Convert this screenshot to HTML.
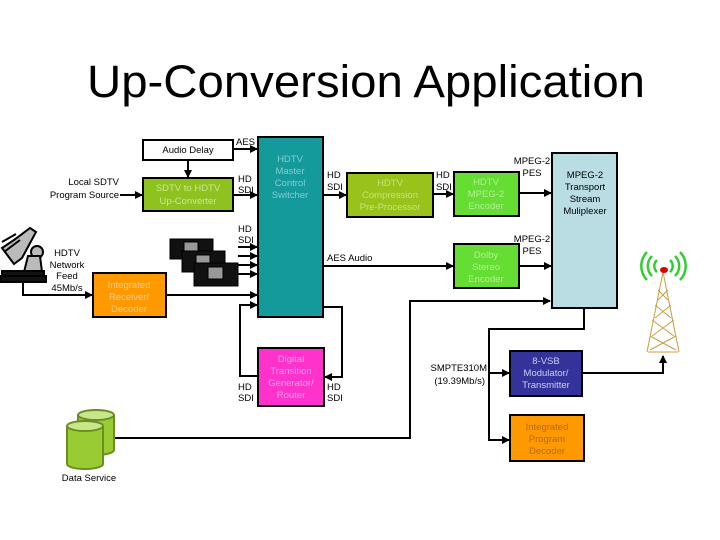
<!DOCTYPE html>
<html><head><meta charset="utf-8"><style>
html,body{margin:0;padding:0;background:#fff;}
svg{display:block;font-family:"Liberation Sans",sans-serif;}
</style></head><body>
<svg width="720" height="540" viewBox="0 0 720 540" xmlns="http://www.w3.org/2000/svg">
<defs>
<marker id="a" markerWidth="8" markerHeight="8" refX="7" refY="4" orient="auto" markerUnits="userSpaceOnUse">
<path d="M0,0 L8,4 L0,8 z" fill="#000"/></marker>
</defs>
<rect width="720" height="540" fill="#fff"/>
<text x="87" y="97" font-size="45" textLength="558" lengthAdjust="spacingAndGlyphs" fill="#000">Up-Conversion Application</text>

<g stroke="#000" stroke-width="2" fill="none">
<line x1="233" y1="149" x2="257" y2="149" marker-end="url(#a)"/>
<line x1="188" y1="160" x2="188" y2="177" marker-end="url(#a)"/>
<line x1="120" y1="195" x2="142" y2="195" marker-end="url(#a)"/>
<line x1="233" y1="195" x2="257" y2="195" marker-end="url(#a)"/>
<line x1="238" y1="247" x2="257" y2="247" marker-end="url(#a)"/>
<line x1="238" y1="256" x2="257" y2="256" marker-end="url(#a)"/>
<line x1="238" y1="265" x2="257" y2="265" marker-end="url(#a)"/>
<line x1="238" y1="274" x2="257" y2="274" marker-end="url(#a)"/>
<polyline points="23,280 23,295 92,295" marker-end="url(#a)"/>
<line x1="166" y1="295" x2="257" y2="295" marker-end="url(#a)"/>
<polyline points="258,376 240,376 240,305 257,305" marker-end="url(#a)"/>
<polyline points="323,307 342,307 342,377 325,377" marker-end="url(#a)"/>
<line x1="323" y1="195" x2="346" y2="195" marker-end="url(#a)"/>
<line x1="433" y1="194" x2="453" y2="194" marker-end="url(#a)"/>
<line x1="519" y1="193" x2="551" y2="193" marker-end="url(#a)"/>
<line x1="323" y1="266" x2="453" y2="266" marker-end="url(#a)"/>
<line x1="519" y1="266" x2="551" y2="266" marker-end="url(#a)"/>
<polyline points="113,438 410,438 410,301 550,301" marker-end="url(#a)"/>
<polyline points="584,308 584,329 489,329 489,440 509,440" marker-end="url(#a)"/>
<line x1="489" y1="373" x2="509" y2="373" marker-end="url(#a)"/>
<polyline points="582,373 663,373 663,356" marker-end="url(#a)"/>
</g>

<g stroke="#000" stroke-width="2">
<rect x="143" y="140" width="90" height="20" fill="#fff"/>
<rect x="143" y="178" width="90" height="33" fill="#8dc21f"/>
<rect x="258" y="137" width="65" height="180" fill="#159a9c"/>
<rect x="347" y="173" width="86" height="44" fill="#99c21a"/>
<rect x="454" y="172" width="65" height="44" fill="#66dd33"/>
<rect x="454" y="244" width="65" height="44" fill="#66dd33"/>
<rect x="552" y="153" width="65" height="155" fill="#b9dde3"/>
<rect x="93" y="273" width="73" height="44" fill="#ff9900"/>
<rect x="258" y="348" width="66" height="58" fill="#ff33cc"/>
<rect x="510" y="351" width="72" height="45" fill="#333399"/>
<rect x="510" y="415" width="74" height="46" fill="#ff9900"/>
</g>

<g font-size="9.5" text-anchor="middle">
<text x="188" y="153">Audio Delay</text>
<g fill="#c8e890"><text x="188" y="191">SDTV to HDTV</text><text x="188" y="204">Up-Converter</text></g>
<g fill="#7fcfcf"><text x="290" y="162">HDTV</text><text x="290" y="174">Master</text><text x="290" y="186">Control</text><text x="290" y="198">Switcher</text></g>
<g fill="#c9e27a"><text x="390" y="186">HDTV</text><text x="390" y="198">Compression</text><text x="390" y="210">Pre-Processor</text></g>
<g fill="#b3ee99"><text x="486" y="185">HDTV</text><text x="486" y="197">MPEG-2</text><text x="486" y="209">Encoder</text></g>
<g fill="#b3ee99"><text x="486" y="258">Dolby</text><text x="486" y="270">Stereo</text><text x="486" y="282">Encoder</text></g>
<text x="585" y="178">MPEG-2</text><text x="585" y="190">Transport</text><text x="585" y="202">Stream</text><text x="585" y="214">Muliplexer</text>
<g fill="#ffcc80"><text x="129" y="288">Integrated</text><text x="129" y="300">Receiver/</text><text x="129" y="312">Decoder</text></g>
<g fill="#f0a0e0"><text x="291" y="362">Digital</text><text x="291" y="374">Transition</text><text x="291" y="386">Generator/</text><text x="291" y="398">Router</text></g>
<g fill="#ccccff"><text x="546" y="364">8-VSB</text><text x="546" y="376">Modulator/</text><text x="546" y="388">Transmitter</text></g>
<g fill="#b36b00"><text x="547" y="430">Integrated</text><text x="547" y="442">Program</text><text x="547" y="454">Decoder</text></g>
<text x="67" y="256">HDTV</text><text x="67" y="268">Network</text><text x="67" y="279">Feed</text><text x="67" y="291">45Mb/s</text>
<text x="89" y="481">Data Service</text>
<text x="532" y="164">MPEG-2</text><text x="532" y="176">PES</text>
<text x="532" y="242">MPEG-2</text><text x="532" y="254">PES</text>
</g>
<g font-size="9.5" text-anchor="end">
<text x="119" y="185">Local SDTV</text><text x="119" y="198">Program Source</text>
<text x="487" y="371">SMPTE310M</text><text x="485" y="384">(19.39Mb/s)</text>
</g>
<g font-size="9.5">
<text x="236" y="145">AES</text>
<text x="238" y="182">HD</text><text x="238" y="193">SDI</text>
<text x="238" y="232">HD</text><text x="238" y="243">SDI</text>
<text x="238" y="390">HD</text><text x="238" y="401">SDI</text>
<text x="327" y="390">HD</text><text x="327" y="401">SDI</text>
<text x="327" y="178">HD</text><text x="327" y="190">SDI</text>
<text x="436" y="178">HD</text><text x="436" y="190">SDI</text>
<text x="327" y="261">AES Audio</text>
</g>

<!-- VTRs -->
<g stroke="#000" stroke-width="1">
<rect x="170" y="239" width="43" height="20" fill="#111"/><rect x="184" y="242" width="14" height="9" fill="#999"/>
<rect x="182" y="251" width="43" height="21" fill="#111"/><rect x="196" y="255" width="14" height="9" fill="#999"/>
<rect x="194" y="263" width="44" height="23" fill="#111"/><rect x="208" y="267" width="15" height="12" fill="#999"/>
</g>
<!-- dish -->
<g stroke="#000" stroke-width="2">
<path d="M2,248 L14,240 L30,228 L36,232 L22,258 L14,264 z" fill="#bbb"/>
<path d="M2,242 L16,234 M4,252 L20,240" />
<circle cx="37" cy="252" r="6" fill="#bbb"/>
<path d="M28,256 L40,256 L42,272 L24,272 z" fill="#bbb"/>
<rect x="2" y="271" width="42" height="10" fill="#111"/>
<rect x="0" y="276" width="46" height="6" fill="#111"/>
</g>
<!-- data cylinders -->
<g stroke="#6b8e23" stroke-width="2" fill="#99cc33">
<path d="M78,415 v35 a18,5 0 0 0 36,0 v-35"/><ellipse cx="96" cy="415" rx="18" ry="5" fill="#c8e68a"/>
<path d="M67,426 v38 a18,5 0 0 0 36,0 v-38"/><ellipse cx="85" cy="426" rx="18" ry="5" fill="#c8e68a"/>
</g>
<!-- tower -->
<g stroke="#c8a040" stroke-width="1" fill="none">
<path d="M663,272 L647,352 M663,272 L679,352 M648,352 L678,352"/>
<path d="M658,290 L668,300 M668,290 L658,300 M655,305 L671,318 M671,305 L655,318 M652,320 L674,336 M674,320 L652,336 M650,336 L676,350 M676,336 L650,350"/>
</g>
<g stroke="#33cc33" stroke-width="2.5" fill="none">
<path d="M657,272 a8,8 0 0 1 0,-12 M652,276 a14,14 0 0 1 0,-20 M647,280 a20,20 0 0 1 0,-28"/>
<path d="M670,272 a8,8 0 0 0 0,-12 M675,276 a14,14 0 0 0 0,-20 M680,280 a20,20 0 0 0 0,-28"/>
</g>
<ellipse cx="664" cy="270" rx="4" ry="3" fill="#dd0000"/>
</svg>
</body></html>
